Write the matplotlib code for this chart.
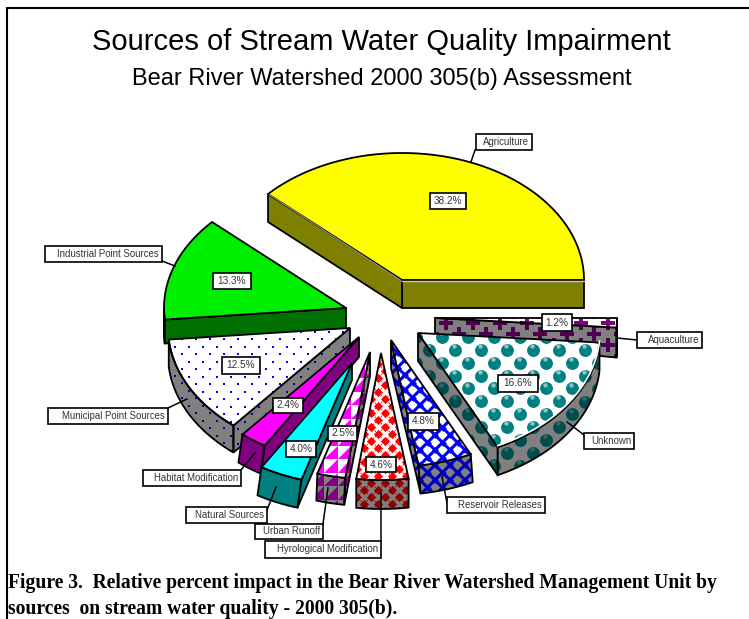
import numpy as np
import matplotlib
matplotlib.use("Agg")
import matplotlib.pyplot as plt
from matplotlib.patches import Polygon, Rectangle
from matplotlib.collections import LineCollection, PolyCollection

labels = ["Agriculture", "Industrial Point Sources", "Municipal Point Sources",
          "Habitat Modification", "Natural Sources", "Urban Runoff",
          "Hyrological Modification", "Reservoir Releases", "Unknown", "Aquaculture"]
values = [38.2, 13.3, 12.5, 2.4, 4.0, 2.5, 4.6, 4.8, 16.6, 1.2]
title = "Sources of Stream Water Quality Impairment"
subtitle = "Bear River Watershed 2000 305(b) Assessment"
caption = ["Figure 3.  Relative percent impact in the Bear River Watershed Management Unit by",
           "sources  on stream water quality - 2000 305(b)."]

# layout (pixels)
apex = [(402, 280), (346, 308), (350, 328), (359, 337), (352, 363),
        (370, 352), (381, 353), (391, 340), (418, 333), (435, 318)]
rscale = [1, 1, 1, 1, .96, 1, 1, 1, 1, 1]
depth = [28, 24, 27, 28, 28, 27, 29, 28, 28, 30]
apex_depth = [28, 23, 27, 20, 17, 24, 29, 28, 28, 22]
lean = [0, 0, 0, -4, -4, -1, 0, 2, 0, 0]
RX, RY = 182, 127
name_box = [(476, 134, 532, 150), (45, 246, 162, 262), (48, 408, 168, 424),
            (143, 470, 241, 486), (186, 507, 267, 523), (255, 524, 323, 539),
            (265, 541, 381, 558), (447, 497, 545, 513), (584, 433, 634, 449), (637, 332, 702, 348)]
leader = [((475, 150), (471, 162)), ((162, 261), (175, 266)), ((168, 408), (187, 399)),
          ((241, 470), (255, 453)), ((267, 510), (276, 487)), ((323, 524), (328, 488)),
          ((381, 541), (381, 493)), ((447, 503), (442, 477)), ((584, 435), (567, 422)),
          ((637, 340), (617, 338))]
pct_box = [(430, 193, 466, 209), (213, 273, 251, 289), (222, 357, 260, 374),
           (273, 398, 303, 413), (286, 441, 316, 457), (328, 426, 357, 441),
           (366, 457, 396, 472), (408, 413, 439, 430), (498, 375, 538, 392), (542, 314, 572, 331)]
top_col = ["#FFFF00", "#00EE00", "white", "#FF00FF", "#00FFFF", "white", "white", "white", "white", "white"]
side_col = ["#808000", "#007000", "#808080", "#800080", "#008080", "#808080", "#808080", "#808080", "#808080", "#808080"]
pattern = [None, None, "dots", None, None, "tri", "diam", "lattice", "balls", "plus"]
pat_top = {"dots": "#0000FF", "tri": "#FF00FF", "diam": "#FF0000", "lattice": "#0000FF", "balls": "#008080", "plus": "#800080"}
pat_side = {"dots": "#0000A0", "tri": "#800080", "diam": "#900000", "lattice": "#0000C0", "balls": "#004D4D", "plus": "#4D004D"}
draw_order = [0, 9, 1, 2, 3, 4, 5, 6, 7, 8]

fig = plt.figure(figsize=(7.49, 6.19), dpi=100)
ax = fig.add_axes([0, 0, 1, 1])
ax.set_xlim(0, 749)
ax.set_ylim(619, 0)
ax.axis("off")

def grid(x0, x1, y0, y1, dx, dy):
    xs, ys = [], []
    for j, y in enumerate(np.arange(y0, y1, dy)):
        off = dx / 2 if j % 2 else 0
        for x in np.arange(x0, x1, dx):
            xs.append(x + off)
            ys.append(y)
    return np.array(xs), np.array(ys)

def diag(x0, x1, y0, y1, p):
    segs = []
    for c in np.arange(np.floor((x0 - y1) / p) * p, x1 - y0, p):
        segs.append([(x0, x0 - c), (x1, x1 - c)])
    for c in np.arange(np.floor((x0 + y0) / p) * p, x1 + y1, p):
        segs.append([(x0, c - x0), (x1, c - x1)])
    return segs

def fill_pattern(kind, patch, colour, z, side):
    ext = patch.get_xy()
    x0, x1 = ext[:, 0].min() - 30, ext[:, 0].max() + 30
    y0, y1 = ext[:, 1].min() - 30, ext[:, 1].max() + 30
    def snap(v, s):
        return np.floor(v / s) * s
    arts = []
    if kind == "dots":
        xs, ys = grid(snap(x0, 14), x1, snap(y0, 14), y1, 14, 7.5)
        arts.append(ax.scatter(xs, ys, s=4.2, marker="s", c=colour, linewidths=0, zorder=z))
    elif kind == "balls":
        xs, ys = grid(snap(x0, 26), x1, snap(y0, 26), y1, 26, 12.8)
        arts.append(ax.scatter(xs, ys, s=86, marker="o", c=colour, linewidths=0, zorder=z))
        hl = "#8CC4C4" if not side else "#336666"
        arts.append(ax.scatter(xs - 1.5, ys - 3.8, s=10, marker="o", c=hl, linewidths=0, zorder=z))
    elif kind == "plus":
        xs, ys = grid(snap(x0, 27), x1, 312, y1, 27, 11)
        arts.append(ax.scatter(xs, ys, s=105, marker="P", c=colour, linewidths=0, zorder=z))
    elif kind == "diam":
        p = 14
        xs, ys = grid(snap(x0, p), x1, snap(y0, p), y1, p, p / 2)
        arts.append(ax.add_collection(LineCollection(diag(x0, x1, y0, y1, p), colors=colour, linewidths=0.8,
                                                     zorder=z, linestyles=(0, (1, 1)))))
        arts.append(ax.scatter(xs, ys, s=22, marker="D", c=colour, linewidths=0, zorder=z))
    elif kind == "lattice":
        arts.append(ax.add_collection(LineCollection(diag(x0, x1, y0, y1, 15), colors=colour, linewidths=2.2, zorder=z)))
        xs, ys = grid(snap(x0, 15), x1, snap(y0, 15), y1, 15, 7.5)
        arts.append(ax.scatter(xs, ys, s=12, marker="D", c=colour, linewidths=0, zorder=z))
    elif kind == "tri":
        t = 13.5
        polys = []
        for x in np.arange(snap(x0, t), x1, t):
            for y in np.arange(snap(y0, t), y1, t):
                polys.append([(x + t, y), (x + t, y + t), (x, y + t)])
        arts.append(ax.add_collection(PolyCollection(polys, facecolors=colour, edgecolors="none", zorder=z)))
    for a in arts:
        a.set_clip_path(patch)

def poly(pts, fc, z, kind=None, side=False, lw=1.3):
    base = Polygon(pts, closed=True, facecolor=fc, edgecolor="none", zorder=z)
    ax.add_patch(base)
    if kind:
        fill_pattern(kind, base, (pat_side if side else pat_top)[kind], z + 0.1, side)
    ax.add_patch(Polygon(pts, closed=True, fill=False, edgecolor="black", linewidth=lw,
                         joinstyle="miter", zorder=z + 0.2))

total = sum(values)
edges = np.concatenate([[0], np.cumsum(values)]) / total * 360

for rank, i in enumerate(draw_order):
    z = 2 + rank
    a0, a1 = np.radians(edges[i]), np.radians(edges[i + 1])
    th = np.linspace(a0, a1, max(6, int(np.degrees(a1 - a0))))
    ax_x, ax_y = apex[i]
    rx, ry = RX * rscale[i], RY * rscale[i]
    arc = np.column_stack([ax_x + rx * np.cos(th), ax_y - ry * np.sin(th)])
    rim_down = np.array([lean[i], depth[i]])
    a = np.array(apex[i], float)
    a_low = a + np.array([0, apex_depth[i]])
    kind = pattern[i]
    if arc[0, 0] > a[0]:
        q = np.array([a, arc[0], arc[0] + rim_down, a_low])
        poly(q, side_col[i], z, kind, True)
    if a[0] > arc[-1, 0]:
        q = np.array([arc[-1], a, a_low, arc[-1] + rim_down])
        poly(q, side_col[i], z + 0.3, kind, True)
    vis = np.sin(th) < 0.0
    if vis.any():
        seg = arc[vis]
        q = np.vstack([seg, (seg + rim_down)[::-1]])
        poly(q, side_col[i], z + 0.4, kind, True)
    top = np.vstack([a, arc])
    poly(top, top_col[i], z + 0.6, kind, False)
    if i == 0:
        ax.plot([a[0], arc[0, 0]], [a[1] + 0.8, arc[0, 1] + 0.8], color="#C8C8C8", lw=1.0, zorder=z + 0.9)
        ax.plot([a[0] - 1, arc[-1, 0] + 1], [a[1] + 0.5, arc[-1, 1] + 0.5], color="#A0A0A0", lw=0.7, zorder=z + 0.9)
    if i == 8:
        ax.plot(arc[:, 0], arc[:, 1] - 1.5, color="white", lw=1.2, zorder=z + 0.9)

zl = 30
for i, name in enumerate(labels):
    (p0, p1) = leader[i]
    ax.plot([p0[0], p1[0]], [p0[1], p1[1]], color="black", lw=1.1, zorder=zl)
    x0, y0, x1, y1 = name_box[i]
    ax.add_patch(Rectangle((x0, y0), x1 - x0, y1 - y0, facecolor="white", edgecolor="black", lw=1.2, zorder=zl + 1))
    ax.text(x1 - 3, (y0 + y1) / 2, name, ha="right", va="center", fontsize=6.9,
            family="Liberation Sans", color="#333333", zorder=zl + 2)
    x0, y0, x1, y1 = pct_box[i]
    ax.add_patch(Rectangle((x0, y0), x1 - x0, y1 - y0, facecolor="white", edgecolor="black", lw=1.2, zorder=zl + 1))
    ax.text((x0 + x1) / 2, (y0 + y1) / 2, f"{values[i]:.1f}%", ha="center", va="center", fontsize=7.2,
            family="Liberation Sans", color="#333333", zorder=zl + 2)

ax.text(381, 42, title, ha="center", va="center", fontsize=21.0, family="Liberation Sans", color="black")
ax.text(381.5, 79, subtitle, ha="center", va="center", fontsize=17.0, family="Liberation Sans", color="black")
ax.plot([7, 7, 749], [619, 7.5, 7.5], color="black", lw=1.5, solid_joinstyle="miter", zorder=1)
for k, line in enumerate(caption):
    ax.text(8, 588 + 26 * k, line, ha="left", va="baseline", fontsize=14.1, family="Liberation Serif",
            weight="bold", color="black", zorder=40)

fig.savefig("out.png", dpi=100)
